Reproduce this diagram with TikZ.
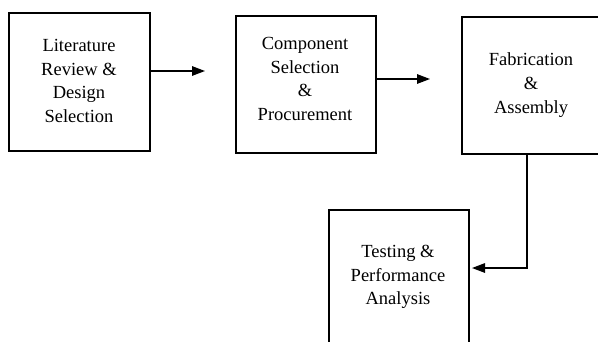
\documentclass[tikz,border=0pt]{standalone}
\usepackage{fontspec}
\setmainfont{Liberation Serif}
\usetikzlibrary{arrows.meta}
\begin{document}
\begin{tikzpicture}[x=1pt,y=-1pt,
  box/.style={draw=black,line width=1.7pt,inner sep=0pt,anchor=north west},
  lbl/.style={align=center,inner sep=0pt,font=\fontsize{18.5}{23.8}\selectfont},
  conn/.style={line width=1.4pt,-{Triangle[length=13pt,width=9.5pt]}}]
\useasboundingbox (0,0) rectangle (598,341);
\clip (0,0) rectangle (598,341);
\node[box,minimum width=141pt,minimum height=138pt] (b1) at (8,12) {};
\node[box,minimum width=140pt,minimum height=137pt] (b2) at (235,15) {};
\node[box,minimum width=160pt,minimum height=137pt] (b3) at (461,16) {};
\node[box,minimum width=140pt,minimum height=170pt] (b4) at (328,209) {};
\node[lbl] (t1) at (79,81) {Literature\\Review \&\\Design\\Selection};
\node[lbl] (t2) at (305,79) {Component\\Selection\\\&\\Procurement};
\node[lbl] (t3) at (531,85) {Fabrication\\\&\\Assembly};
\node[lbl] (t4) at (398,277) {Testing \&\\Performance\\Analysis};
\coordinate (e1) at (205,71);
\coordinate (e2) at (430,79);
\coordinate (k3) at (527,268);
\coordinate (e3) at (472,268);
\draw[conn] (b1.east |- e1) -- (e1);
\draw[conn] (b2.east |- e2) -- (e2);
\draw[conn] (k3 |- b3.south) -- (k3) -- (e3);
\end{tikzpicture}
\end{document}
